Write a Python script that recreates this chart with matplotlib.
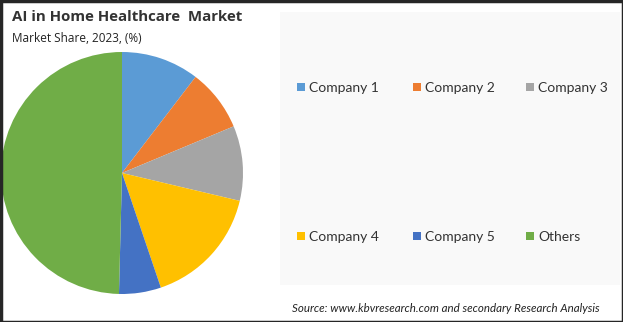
import matplotlib
matplotlib.use("Agg")
import matplotlib.pyplot as plt
import matplotlib.patches as patches

# market share, 2023 (%)
labels = ["Company 1", "Company 2", "Company 3", "Company 4", "Company 5", "Others"]
shares = [10.4, 8.3, 10.0, 16.1, 5.6, 49.6]
colors = ["#5B9BD5", "#ED7D31", "#A5A5A5", "#FFC000", "#4472C4", "#70AD47"]

W, H = 623, 322
fig = plt.figure(figsize=(W / 100, H / 100), dpi=100)
fig.patch.set_facecolor("white")

# light panel behind legend
fig.patches.append(patches.Rectangle((280 / W, 1 - 285 / H), 340 / W, 273 / H,
                                     transform=fig.transFigure, facecolor="#F9F9F9",
                                     edgecolor="none", zorder=0))
# outer frame
fig.patches.append(patches.Rectangle((0.5 / W, 0.5 / H), 1 - 1 / W, 1 - 1 / H,
                                     transform=fig.transFigure, facecolor="none",
                                     edgecolor="#262626", linewidth=2.5, zorder=5))

cx, cy, r = 122, 173, 121
ax = fig.add_axes([(cx - r) / W, 1 - (cy + r) / H, 2 * r / W, 2 * r / H])
wedges, _ = ax.pie(shares, colors=colors, startangle=90, counterclock=False,
                   wedgeprops=dict(linewidth=0))
ax.set_xlim(-1, 1)
ax.set_ylim(-1, 1)
ax.set_aspect("equal")

fig.text(12 / W, 1 - 17 / H, "AI in Home Healthcare  Market", fontsize=10.8,
         fontweight="bold", family="Open Sans", color="#333333", va="center")
fig.text(12 / W, 1 - 38 / H, "Market Share, 2023, (%)", fontsize=8.5,
         family="Open Sans", color="#222222", va="center")

# legend laid out by hand: 3 columns, 2 rows
col_x = [297, 413, 526]
row_y = [87, 236]
sq = 8
for i, (lab, col) in enumerate(zip(labels, colors)):
    x = col_x[i % 3]
    y = row_y[i // 3]
    fig.patches.append(patches.Rectangle((x / W, 1 - (y + sq / 2) / H), sq / W, sq / H,
                                         transform=fig.transFigure, facecolor=col,
                                         edgecolor="none", zorder=2))
    fig.text((x + sq + 4) / W, 1 - y / H, lab, fontsize=10, family="Lato",
             color="#333333", va="center_baseline")

fig.text(292 / W, 1 - 309 / H,
         "Source: www.kbvresearch.com and secondary Research Analysis",
         fontsize=8.3, style="italic", family="Lato", color="#222222", va="center")

fig.savefig("out.png", dpi=100)
